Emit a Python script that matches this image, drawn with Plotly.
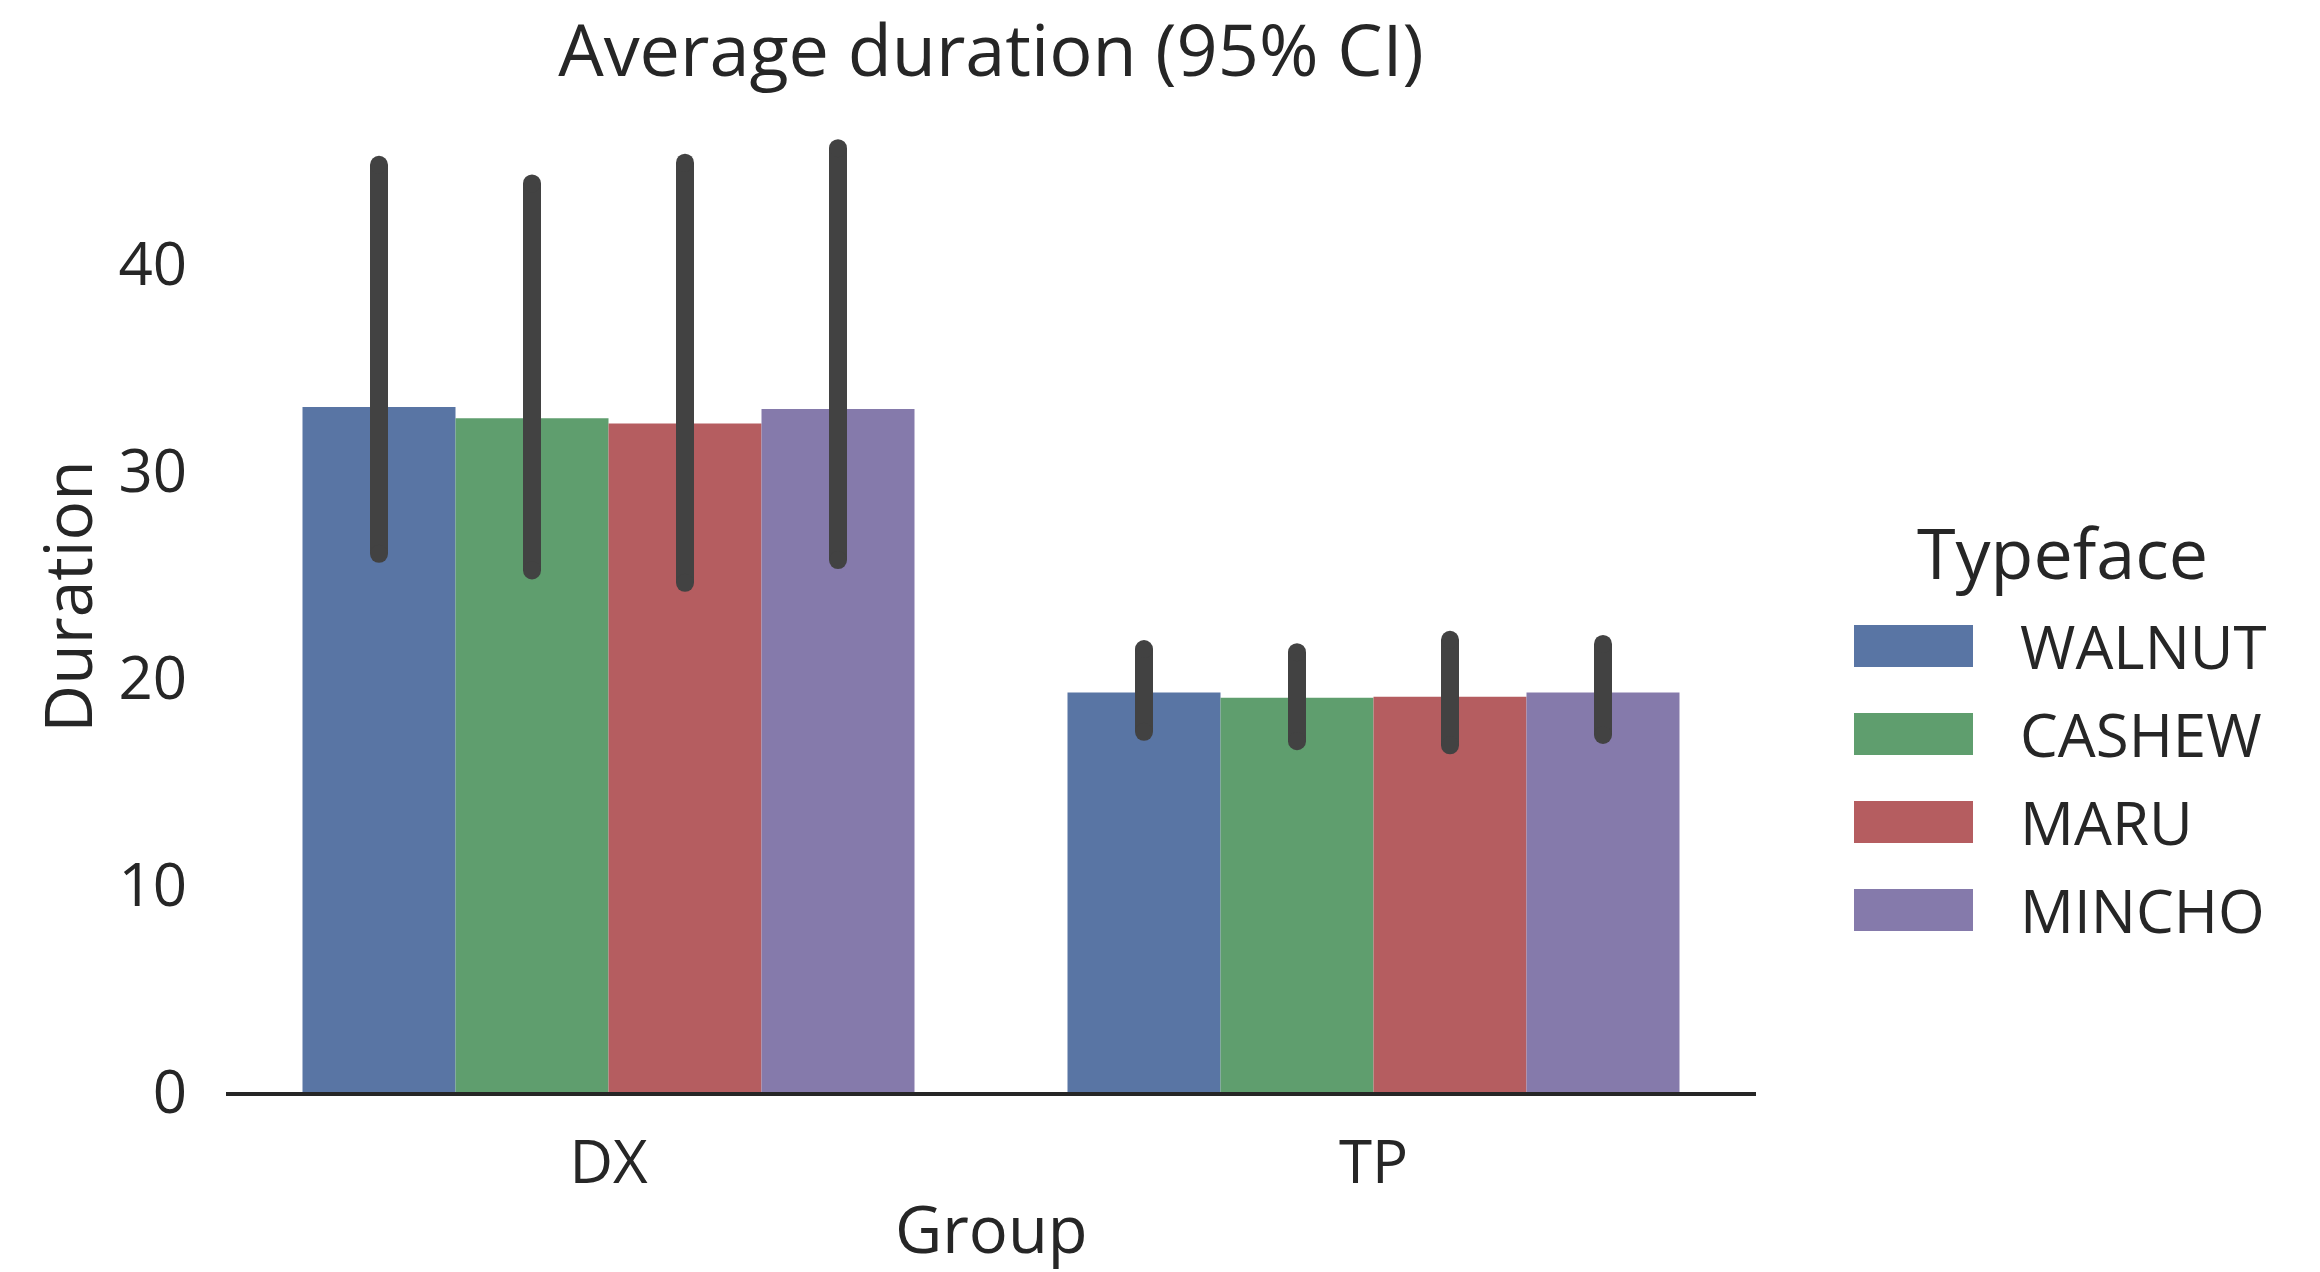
import plotly.graph_objects as go

# ---- data ----
groups = ["DX", "TP"]
typefaces = ["WALNUT", "CASHEW", "MARU", "MINCHO"]
mean_dx = [33.1, 32.55, 32.3, 33.0]
mean_tp = [19.3, 19.05, 19.1, 19.3]
ci_low_dx = [26.0, 25.2, 24.6, 25.7]
ci_high_dx = [44.8, 43.9, 44.9, 45.6]
ci_low_tp = [17.4, 16.95, 16.75, 17.25]
ci_high_tp = [21.4, 21.25, 21.85, 21.65]
y_ticks = [0, 10, 20, 30, 40]

# ---- style ----
colors = ["#5975A4", "#5F9E6E", "#B55D60", "#857AAB"]
err_color = "#424242"
text_color = "#262626"
FONT = "Open Sans"
W, H = 2320, 1272
L = 226
T = 101
B = H - 1092
R = W - 1756
PW, PH = W - L - R, H - T - B
ERR_W = 18


def px_x(px):
    return (px - L) / PW


def px_y(py):
    return (H - B - py) / PH


fig = go.Figure()

for i, name in enumerate(typefaces):
    means = [mean_dx[i], mean_tp[i]]
    lows = [ci_low_dx[i], ci_low_tp[i]]
    highs = [ci_high_dx[i], ci_high_tp[i]]
    fig.add_trace(go.Bar(
        x=groups, y=means, name=name,
        marker=dict(color=colors[i], line=dict(width=0)),
        offsetgroup=name,
        error_y=dict(type="data", symmetric=False,
                     array=[h - m for h, m in zip(highs, means)],
                     arrayminus=[m - l for m, l in zip(means, lows)],
                     color=err_color, thickness=ERR_W, width=0),
        showlegend=False,
    ))

# round caps at the ends of the CI lines
for i, name in enumerate(typefaces):
    fig.add_trace(go.Scatter(
        x=[groups[0], groups[0], groups[1], groups[1]],
        y=[ci_low_dx[i], ci_high_dx[i], ci_low_tp[i], ci_high_tp[i]],
        mode="markers", offsetgroup=name,
        marker=dict(color=err_color, size=ERR_W, line=dict(width=0)),
        showlegend=False, hoverinfo="skip",
    ))

y_max = max(max(ci_high_dx), max(ci_high_tp)) * 1.05

fig.update_layout(
    width=W, height=H,
    margin=dict(l=L, r=R, t=T, b=B, autoexpand=False),
    paper_bgcolor="white", plot_bgcolor="white",
    barmode="group", bargap=0.2, bargroupgap=0,
    scattermode="group", scattergap=0.2,
    font=dict(family=FONT, color=text_color, size=60),
    title=dict(text="Average duration (95% CI)", x=0.5, xref="paper",
               y=1 - 51 / H, yref="container", yanchor="middle",
               xanchor="center", font=dict(size=72, color=text_color)),
    xaxis=dict(showline=True, linecolor=text_color, linewidth=4,
               showgrid=False, zeroline=False, ticks="",
               ticklabelstandoff=15,
               tickfont=dict(size=60, color=text_color)),
    yaxis=dict(range=[0, y_max], showline=False, showgrid=False,
               zeroline=False, ticks="", tickvals=y_ticks,
               ticklabelstandoff=38,
               tickfont=dict(size=60, color=text_color),
               title=dict(text="Duration", font=dict(size=66, color=text_color),
                          standoff=4)),
    showlegend=False,
)

# ---- x-axis title as annotation (axis titles are clamped to margins) ----
shapes = []
annotations = [dict(text="Group", xref="paper", yref="paper",
                    x=0.5, y=px_y(1228), xanchor="center", yanchor="middle",
                    showarrow=False, font=dict(size=65, color=text_color))]

# ---- legend (drawn with shapes + text) ----
sw_x0, sw_x1, sw_h = 1854, 1973, 42
item_y = [646, 734, 822, 910]
for i, name in enumerate(typefaces):
    cy = item_y[i]
    shapes.append(dict(type="rect", xref="paper", yref="paper",
                       x0=px_x(sw_x0), x1=px_x(sw_x1),
                       y0=px_y(cy + sw_h / 2), y1=px_y(cy - sw_h / 2),
                       fillcolor=colors[i], line=dict(width=0)))
    annotations.append(dict(text=name, xref="paper", yref="paper",
                            x=px_x(2018), y=px_y(cy), xanchor="left",
                            yanchor="middle", showarrow=False,
                            font=dict(size=60, color=text_color)))
annotations.append(dict(text="Typeface", xref="paper", yref="paper",
                        x=px_x(2062), y=px_y(552), xanchor="center",
                        yanchor="middle", showarrow=False,
                        font=dict(size=70, color=text_color)))
fig.update_layout(shapes=shapes, annotations=annotations)

fig.write_html(
    "out.html",
    config={"displayModeBar": False},
    post_script="document.body.style.margin='0';document.body.style.overflow='hidden';",
)
